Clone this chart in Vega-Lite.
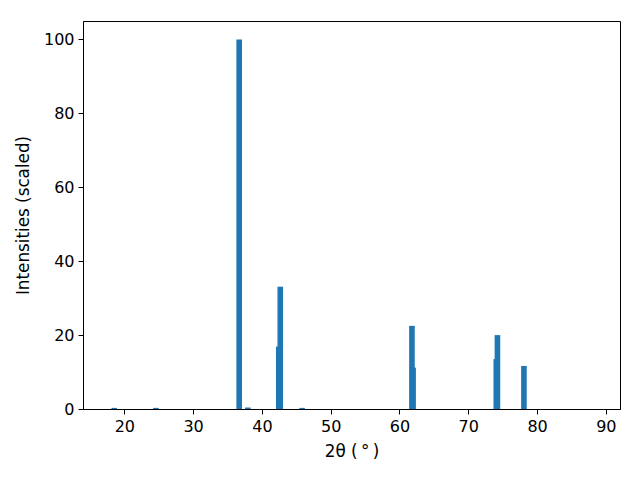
{
  "$schema": "https://vega.github.io/schema/vega-lite/v6.json",
  "width": 537,
  "height": 388,
  "autosize": {"type": "none"},
  "padding": {"left": 83, "top": 21, "right": 20, "bottom": 71},
  "background": "white",
  "config": {
    "font": "DejaVu Sans",
    "view": {"stroke": "black", "strokeWidth": 1},
    "axis": {
      "grid": false,
      "domainColor": "black",
      "tickColor": "black",
      "tickSize": 5,
      "labelPadding": 4,
      "labelFontSize": 16,
      "labelColor": "black",
      "titleFontSize": 16.8,
      "titleFontWeight": "normal",
      "titleColor": "black",
      "labelFont": "DejaVu Sans",
      "titleFont": "DejaVu Sans"
    }
  },
  "data": {
    "values": [
      {"two_theta": 18.53, "intensity": 0.3},
      {"two_theta": 24.59, "intensity": 0.3},
      {"two_theta": 36.7, "intensity": 100},
      {"two_theta": 37.96, "intensity": 0.4},
      {"two_theta": 42.45, "intensity": 16.9},
      {"two_theta": 42.67, "intensity": 33.1},
      {"two_theta": 45.85, "intensity": 0.3},
      {"two_theta": 61.81, "intensity": 22.5},
      {"two_theta": 61.98, "intensity": 11.2},
      {"two_theta": 74.07, "intensity": 13.5},
      {"two_theta": 74.24, "intensity": 20.0},
      {"two_theta": 78.09, "intensity": 11.65}
    ]
  },
  "mark": {"type": "bar", "size": 5.6, "color": "#1f77b4", "orient": "vertical"},
  "encoding": {
    "x": {
      "field": "two_theta",
      "type": "quantitative",
      "scale": {"domain": [14.72, 91.33], "nice": false, "zero": false},
      "axis": {"values": [20, 30, 40, 50, 60, 70, 80, 90], "title": "2θ (\u2009°\u2009)", "titlePadding": 9}
    },
    "y": {
      "field": "intensity",
      "type": "quantitative",
      "scale": {"domain": [0, 105], "nice": false},
      "axis": {"values": [0, 20, 40, 60, 80, 100], "title": "Intensities (scaled)", "titlePadding": 11}
    }
  }
}
